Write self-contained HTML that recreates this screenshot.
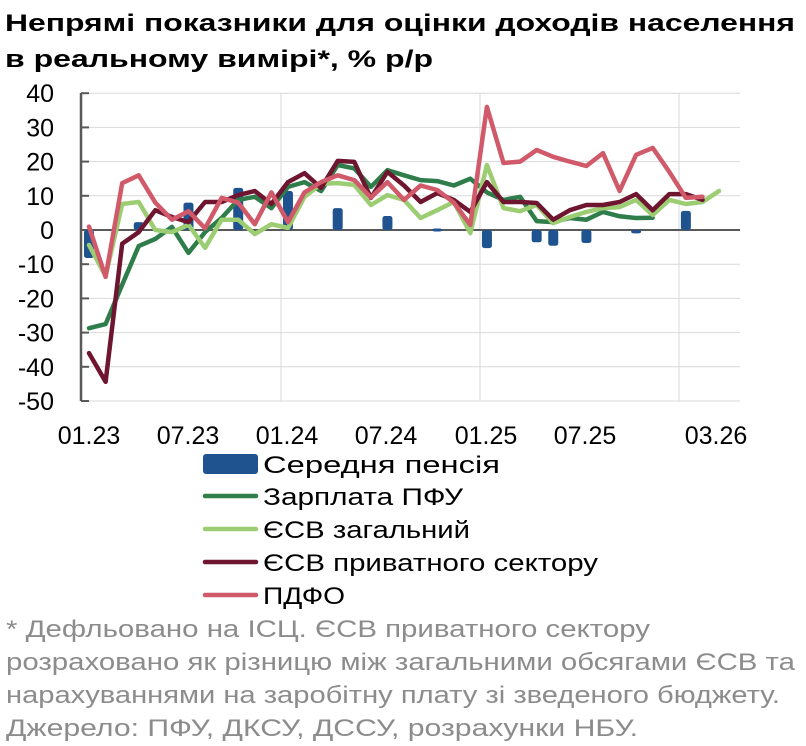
<!DOCTYPE html>
<html><head><meta charset="utf-8"><style>
body{margin:0;background:#fff;width:806px;height:746px;overflow:hidden}
svg{position:absolute;left:0;top:0}
text{font-family:"Liberation Sans",Arial,sans-serif}
</style></head><body>
<svg id="s" width="806" height="746" xmlns="http://www.w3.org/2000/svg">
<text x="5" y="31" font-size="24" font-weight="bold" fill="#000" textLength="790" lengthAdjust="spacingAndGlyphs">Непрямі показники для оцінки доходів населення</text>
<text x="5" y="67" font-size="24" font-weight="bold" fill="#000" textLength="428" lengthAdjust="spacingAndGlyphs">в реальному вимірі*, % р/р</text>
<g id="grid"></g>
<g id="bars"></g>
<g id="lines" fill="none" stroke-linejoin="round" stroke-linecap="round" stroke-width="4.5"></g>
<g font-size="25" fill="#000" text-anchor="middle">
<text x="89" y="444">01.23</text><text x="188" y="444">07.23</text><text x="287" y="444">01.24</text>
<text x="386" y="444">07.24</text><text x="486" y="444">01.25</text><text x="585" y="444">07.25</text><text x="716" y="444">03.26</text>
</g>
<g font-size="24" fill="#000">
<rect x="203" y="454" width="55" height="20" rx="3" fill="#1f5390"/>
<line x1="205" y1="496" x2="256" y2="496" stroke="#2e7d4a" stroke-width="4.5" stroke-linecap="round"/>
<line x1="205" y1="529" x2="256" y2="529" stroke="#9ccd72" stroke-width="4.5" stroke-linecap="round"/>
<line x1="205" y1="562" x2="256" y2="562" stroke="#6e1530" stroke-width="4.5" stroke-linecap="round"/>
<line x1="205" y1="595" x2="256" y2="595" stroke="#d05a6a" stroke-width="4.5" stroke-linecap="round"/>
<text x="263" y="473" textLength="237" lengthAdjust="spacingAndGlyphs">Середня пенсія</text>
<text x="263" y="505" textLength="200" lengthAdjust="spacingAndGlyphs">Зарплата ПФУ</text>
<text x="263" y="538" textLength="207" lengthAdjust="spacingAndGlyphs">ЄСВ загальний</text>
<text x="263" y="571" textLength="335" lengthAdjust="spacingAndGlyphs">ЄСВ приватного сектору</text>
<text x="263" y="604" textLength="82" lengthAdjust="spacingAndGlyphs">ПДФО</text>
</g>
<g font-size="24" fill="#8c8c8c">
<text x="6" y="637" textLength="644" lengthAdjust="spacingAndGlyphs">* Дефльовано на ІСЦ. ЄСВ приватного сектору</text>
<text x="6" y="670" textLength="789" lengthAdjust="spacingAndGlyphs">розраховано як різницю між загальними обсягами ЄСВ та</text>
<text x="6" y="703" textLength="774" lengthAdjust="spacingAndGlyphs">нарахуваннями на заробітну плату зі зведеного бюджету.</text>
<text x="6" y="736" textLength="632" lengthAdjust="spacingAndGlyphs">Джерело: ПФУ, ДКСУ, ДССУ, розрахунки НБУ.</text>
</g>
</svg>
<script>
var NS="http://www.w3.org/2000/svg";
function X(i){return 89+16.58*i}function Y(v){return 230-3.42*v}
function el(p,t,a){var e=document.createElementNS(NS,t);for(var k in a)e.setAttribute(k,a[k]);p.appendChild(e);return e}
var g=document.getElementById('grid');
for(var v=40;v>=-50;v-=10){
 if(v!=0)el(g,'line',{x1:82,x2:740,y1:Y(v),y2:Y(v),stroke:'#d9d9d9','stroke-width':1});
 el(g,'line',{x1:81,x2:89,y1:Y(v),y2:Y(v),stroke:'#595959','stroke-width':2});
 var t=el(g,'text',{x:54,y:Y(v)+9,'font-size':25,'text-anchor':'end',fill:'#000'});t.textContent=v;
}
[281,480,679].forEach(function(x){el(g,'line',{x1:x,x2:x,y1:93,y2:401,stroke:'#d9d9d9','stroke-width':1})});
el(g,'line',{x1:81,x2:81,y1:93,y2:401,stroke:'#595959','stroke-width':2.5});
el(g,'line',{x1:81,x2:740,y1:Y(0),y2:Y(0),stroke:'#595959','stroke-width':2});
var b=document.getElementById('bars');
[[0,-8.2],[3,2.3],[6,8],[9,12.3],[12,11.4],[15,6.4],[18,4.1],[21,-0.6],[24,-5.3],[27,-3.6],[28,-4.6],[30,-3.8],[33,-1],[36,5.6]].forEach(function(d){
 var y0=Y(Math.max(0,d[1])),h=Math.abs(d[1])*3.42;if(h<3){h=3;y0=Y(0)-1.5}
 el(b,'rect',{x:X(d[0])-5,y:y0,width:10,height:h,rx:2.5,fill:'#1f5390'});
});
var S=[
['#2e7d4a',[-28.7,-27.5,-16,-4.7,-2.6,0.9,-6.7,-0.6,3.5,8.8,9.7,6.4,12.6,14,11.4,19,18,12.6,17.5,16,14.6,14.3,13,15,11,8.8,9.7,2.6,2.3,3.5,3,5.3,4,3.5,3.6]],
['#9ccd72',[-4.4,-13.5,7.6,8.2,0,-0.6,1.5,-5.2,3,3,-1.2,1.7,0.6,9.7,13.5,13.7,13.2,7.3,10.2,8.8,3.5,5.8,8.2,-0.9,19,6.4,5.5,7.3,2,3.8,5.3,6.4,6.7,8.8,4.4,8.8,7.6,8.2,11.4]],
['#6e1530',[-36,-44.4,-4,-0.6,5.8,3.8,2.3,8.2,8.2,10.2,11.4,7.6,14,16.6,12.3,20.2,19.9,9.4,17,13,8.2,10.8,8.8,5.3,14,8.2,8.2,7.9,3,5.8,7.3,7.3,8.2,10.5,5.8,10.5,10.5,8.8]],
['#d05a6a',[1,-13.7,13.7,16,8,3,5.5,0.5,9.4,8,1.7,11,2.3,11,14,16,14.6,9.5,14,8.8,13,11.7,8,1.5,36,19.6,20,23.4,21.4,20,18.7,22.5,11.4,22,24,17,9.4,9.7]]];
var L=document.getElementById('lines');
S.forEach(function(s){el(L,'polyline',{stroke:s[0],points:s[1].map(function(v,i){return X(i).toFixed(1)+','+Y(v).toFixed(1)}).join(' ')})});
</script>
</body></html>
